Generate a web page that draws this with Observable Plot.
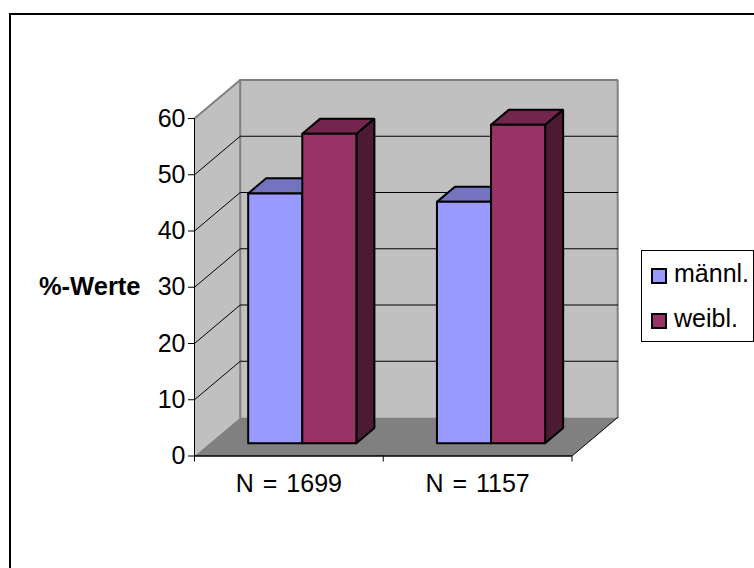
<!DOCTYPE html>
<html><head><meta charset="utf-8">
<script src="https://cdn.jsdelivr.net/npm/d3@7"></script>
<script src="https://cdn.jsdelivr.net/npm/@observablehq/plot@0.6"></script>
<style>
html,body{margin:0;padding:0;background:#fff;overflow:hidden}
#wrap{position:relative;width:754px;height:568px;font-family:"Liberation Sans",Arial,sans-serif}
#wrap svg{position:absolute;left:0;top:0}
#frame{position:absolute;left:9px;top:13px;right:0;bottom:0;border-left:2px solid #000;border-top:2px solid #000}
#legend{position:absolute;left:641px;top:250px;width:111px;height:90px;border:1px solid #000;background:#fff;font-size:25px;color:#000}
#legend div{position:absolute;left:9px;height:28px;line-height:28px;white-space:nowrap}
#legend i{display:inline-block;width:12px;height:12px;border:2px solid #000;margin-right:7px;vertical-align:-1.5px}
</style></head><body>
<div id="wrap"><div id="frame"></div><div id="chart"></div><div id="legend"></div></div>
<script>
const categories = ["N = 1699", "N = 1157"];
const seriesNames = ["männl.", "weibl."];
const maennl = [44.4, 42.9];
const weibl = [55, 56.6];
const yTicks = [0, 10, 20, 30, 40, 50, 60];
const xTicks = [0, 1, 2];
const yLabel = "%-Werte";
const seriesColors = {front: ["#9999ff", "#993366"], top: ["#7373bf", "#73264d"], side: ["#4d4d80", "#4d1a33"]};

// oblique depth in data units (one full depth of the chart box)
const DX = 0.2421, DY = 6.844;
const P = (x, y, d) => ({x: x + d * DX, y: y + d * DY});
const WALL = "#c0c0c0", FLOOR = "#808080", EDGE = "#808080";

const polys = [];
const poly = (id, fill, pts) => pts.concat([pts[0]]).forEach(p => polys.push({...p, id, fill}));

poly("wall", WALL, [P(0,0,1), P(2,0,1), P(2,60,1), P(0,60,1)]);
poly("side", WALL, [P(0,0,0), P(0,0,1), P(0,60,1), P(0,60,0)]);
poly("floor", FLOOR, [P(0,0,0), P(2,0,0), P(2,0,1), P(0,0,1)]);

// bars sit on the floor between two depths
const d0 = 0.333, d1 = 0.727;
const barOffset = 0.2845, barW = 0.2866;
categories.forEach((c, i) => {
  [maennl[i], weibl[i]].forEach((v, s) => {
    const A = i + barOffset + s * barW - d0 * DX, B = A + barW;
    const id = `b${i}${s}`;
    poly(id + "side", seriesColors.side[s], [P(B,0,d0), P(B,0,d1), P(B,v,d1), P(B,v,d0)]);
    poly(id + "top", seriesColors.top[s], [P(A,v,d0), P(B,v,d0), P(B,v,d1), P(A,v,d1)]);
    poly(id + "front", seriesColors.front[s], [P(A,0,d0), P(B,0,d0), P(B,v,d0), P(A,v,d0)]);
  });
});

const wallGrid = yTicks.filter(v => v > 0 && v < 60);
const gridLines = wallGrid.flatMap(v => [
  {id: v, ...P(0, v, 0)}, {id: v, ...P(0, v, 1)}, {id: v, ...P(2, v, 1)}
]);
const edgeLines = [
  {id: "a", ...P(0,60,0)}, {id: "a", ...P(0,60,1)}, {id: "a", ...P(2,60,1)}, {id: "a", ...P(2,0,1)},
  {id: "b", ...P(0,0,1)}, {id: "b", ...P(0,60,1)}
];
const bgIds = new Set(["wall","side","floor"]);
const bgPolys = polys.filter(p => bgIds.has(p.id));
const barPolys = polys.filter(p => !bgIds.has(p.id));

const chart = Plot.plot({
  width: 754, height: 568,
  marginLeft: 194, marginRight: 182.5, marginTop: 118, marginBottom: 112.5,
  style: {background: "transparent", fontFamily: '"Liberation Sans", Arial, sans-serif', overflow: "visible", wordSpacing: "2px"},
  x: {domain: [0, 2], type: "linear", axis: null},
  y: {domain: [0, 60], type: "linear", axis: null},
  marks: [
    Plot.line(bgPolys, {x: "x", y: "y", z: "id", fill: "fill", stroke: "none"}),
    Plot.line(edgeLines, {x: "x", y: "y", z: "id", stroke: EDGE, strokeWidth: 2, strokeLinejoin: "miter"}),
    Plot.line(gridLines, {x: "x", y: "y", z: "id", stroke: "#000", strokeWidth: 1}),
    Plot.line([P(2,0,0), P(2,0,1)], {x: "x", y: "y", stroke: "#000", strokeWidth: 1}),
    Plot.line(barPolys, {x: "x", y: "y", z: "id", fill: "fill", stroke: "#000", strokeWidth: 2, strokeLinejoin: "miter"}),
    Plot.ruleX([0], {y1: 0, y2: 60, stroke: "#000", strokeWidth: 1}),
    Plot.ruleY([0], {x1: 0, x2: 2, stroke: "#000", strokeWidth: 1.5}),
    Plot.axisY({ticks: yTicks, anchor: "left", tickSize: 6, tickPadding: 3, fontSize: 25, label: null, tickFormat: d => d, stroke: "#000", fill: "#000", textStroke: "none"}),
    Plot.axisX({ticks: xTicks, anchor: "bottom", tickSize: 6, tickFormat: () => "", label: null, stroke: "#000"}),
    Plot.text(categories, {x: (d, i) => i + 0.5, y: 0, dy: 27.5, fontSize: 25, fill: "#000", text: d => d}),
    Plot.text([yLabel], {x: 0, y: 30, dx: -54, textAnchor: "end", fontSize: 25.5, fontWeight: 700, fill: "#000"})
  ]
});
document.getElementById("chart").append(chart);

const legend = document.getElementById("legend");
seriesNames.forEach((name, i) => {
  const row = document.createElement("div");
  row.style.top = (i === 0 ? 8 : 53) + "px";
  const sw = document.createElement("i");
  sw.style.background = seriesColors.front[i];
  row.append(sw, name);
  legend.append(row);
});
</script>
</body></html>
